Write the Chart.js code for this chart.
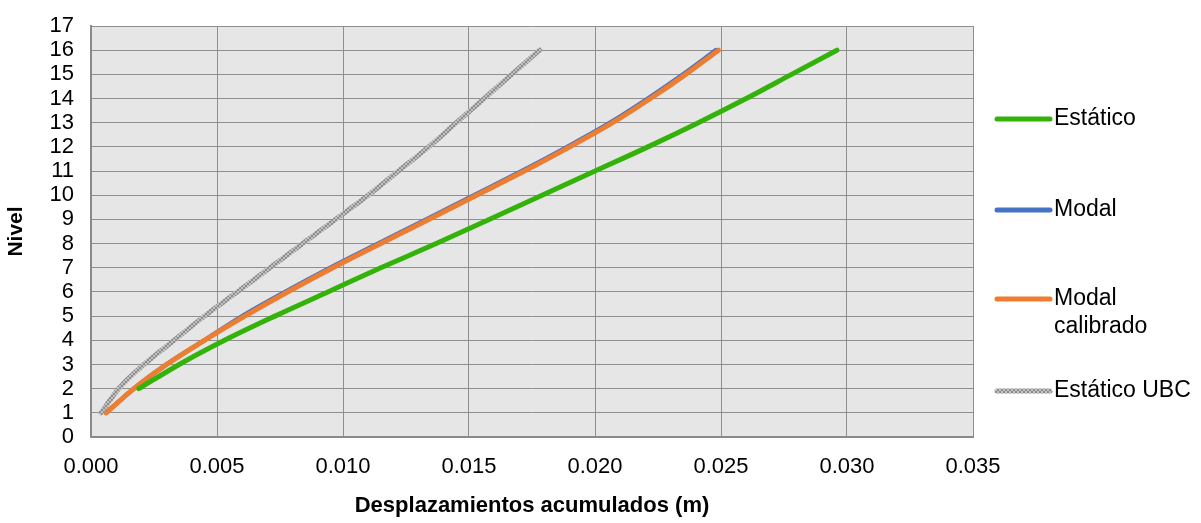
<!DOCTYPE html>
<html>
<head>
<meta charset="utf-8">
<script src="https://cdn.jsdelivr.net/npm/chart.js@4/dist/chart.umd.min.js"></script>
<style>
html,body{margin:0;padding:0;background:#fff;}
#wrap{width:1201px;height:523px;position:relative;}
</style>
</head>
<body>
<div id="wrap"><canvas id="c" width="1201" height="523"></canvas></div>
<script>
const levels = [1,2,3,4,5,6,7,8,9,10,11,12,13,14,15,16];
const estaticoLevels = [2,3,4,5,6,7,8,9,10,11,12,13,14,15,16];
const estatico = [0.0019,0.0035,0.0053,0.0073,0.0094,0.0115,0.0137,0.0158,0.0179,0.0200,0.0221,0.0241,0.0260,0.0278,0.0296];
const modal = [0.0006,0.0017,0.0030,0.0045,0.0060,0.0077,0.0095,0.0114,0.0133,0.0152,0.0171,0.0189,0.0206,0.0221,0.0235,0.0248];
const modalCalibrado = [0.0006,0.0017,0.0030,0.0045,0.0061,0.0078,0.0096,0.0115,0.0134,0.0153,0.0172,0.0190,0.0207,0.0222,0.0236,0.0249];
const estaticoUBC = [0.0004,0.0011,0.0021,0.0033,0.0045,0.0058,0.0071,0.0084,0.0097,0.0110,0.0122,0.0134,0.0145,0.0156,0.0167,0.0178];
const seriesNames = ['Estático','Modal','Modal calibrado','Estático UBC'];
const xTicks = [0,0.005,0.010,0.015,0.020,0.025,0.030,0.035];

const FONT = "'Liberation Sans', Arial, sans-serif";

function pts(xs, ys){ return xs.map((v,i)=>({x:v,y:ys[i]})); }

// hatched grey pattern
const pc = document.createElement('canvas');
pc.width = 4; pc.height = 4;
const px = pc.getContext('2d');
px.fillStyle = '#c2c2c2'; px.fillRect(0,0,4,4);
px.strokeStyle = '#8c8c8c'; px.lineWidth = 1;
px.beginPath(); px.moveTo(0,0); px.lineTo(4,4); px.moveTo(4,0); px.lineTo(0,4); px.stroke();
const greyPattern = document.getElementById('c').getContext('2d').createPattern(pc,'repeat');

const colors = ['#33b30a','#4472c4','#ed7d31',greyPattern];

const bgPlugin = {
  id:'bg',
  beforeDraw(chart){
    const {ctx, chartArea:a} = chart;
    ctx.save(); ctx.fillStyle = '#e6e6e6';
    ctx.fillRect(a.left,a.top,a.right-a.left,a.bottom-a.top);
    ctx.restore();
  }
};

const legendPlugin = {
  id:'customLegend',
  afterDraw(chart){
    const ctx = chart.ctx;
    const items = [
      {i:0, y:119, lines:['Estático']},
      {i:1, y:210, lines:['Modal']},
      {i:2, y:299, lines:['Modal','calibrado']},
      {i:3, y:391, lines:['Estático UBC']}
    ];
    ctx.save();
    ctx.font = '23px ' + FONT;
    ctx.fillStyle = '#000';
    ctx.textBaseline = 'middle';
    ctx.textAlign = 'left';
    items.forEach(it=>{
      ctx.strokeStyle = colors[it.i];
      ctx.lineWidth = 5; ctx.lineCap = 'round';
      ctx.beginPath(); ctx.moveTo(997,it.y); ctx.lineTo(1050,it.y); ctx.stroke();
      it.lines.forEach((t,k)=>ctx.fillText(t,1054,it.y+k*28));
    });
    ctx.restore();
  }
};

const common = {showLine:true, pointRadius:0, cubicInterpolationMode:'monotone', borderCapStyle:'round', borderJoinStyle:'round'};

new Chart(document.getElementById('c'), {
  type:'scatter',
  data:{
    datasets:[
      Object.assign({label:seriesNames[1], data:pts(modal,levels), borderColor:colors[1], backgroundColor:colors[1], borderWidth:4.5, order:3}, common),
      Object.assign({label:seriesNames[2], data:pts(modalCalibrado,levels), borderColor:colors[2], backgroundColor:colors[2], borderWidth:5, order:2}, common),
      Object.assign({label:seriesNames[0], data:pts(estatico,estaticoLevels), borderColor:colors[0], backgroundColor:colors[0], borderWidth:5, order:1}, common),
      Object.assign({label:seriesNames[3], data:pts(estaticoUBC,levels), borderColor:colors[3], backgroundColor:'#aaa', borderWidth:5, order:0}, common)
    ]
  },
  options:{
    responsive:false,
    animation:false,
    layout:{padding:{left:0,right:228,top:26,bottom:0}},
    plugins:{legend:{display:false}, tooltip:{enabled:false}},
    scales:{
      x:{
        type:'linear', min:0, max:0.035,
        afterBuildTicks(s){ s.ticks = xTicks.map(v=>({value:v})); },
        afterFit(s){ s.height = 86; },
        ticks:{color:'#000', font:{family:FONT,size:22}, padding:17, callback:v=>v.toFixed(3), maxRotation:0},
        grid:{color:'#8f8f8f', lineWidth:1, drawTicks:false},
        border:{color:'#8a8a8a', width:2},
        title:{display:true, text:'Desplazamientos acumulados (m)', color:'#000', font:{family:FONT,size:22,weight:'bold'}, padding:{top:12}}
      },
      y:{
        type:'linear', min:0, max:17,
        ticks:{stepSize:1, color:'#000', font:{family:FONT,size:22}, padding:17, autoSkip:false},
        afterFit(s){ s.width = 91; s.paddingTop = 0; s.paddingBottom = 0; },
        grid:{color:'#8f8f8f', lineWidth:1, drawTicks:false},
        border:{color:'#8a8a8a', width:2},
        title:{display:true, text:'Nivel', color:'#000', font:{family:FONT,size:21,weight:'bold'}, padding:{bottom:0}}
      }
    }
  },
  plugins:[bgPlugin, legendPlugin]
});
</script>
</body>
</html>
